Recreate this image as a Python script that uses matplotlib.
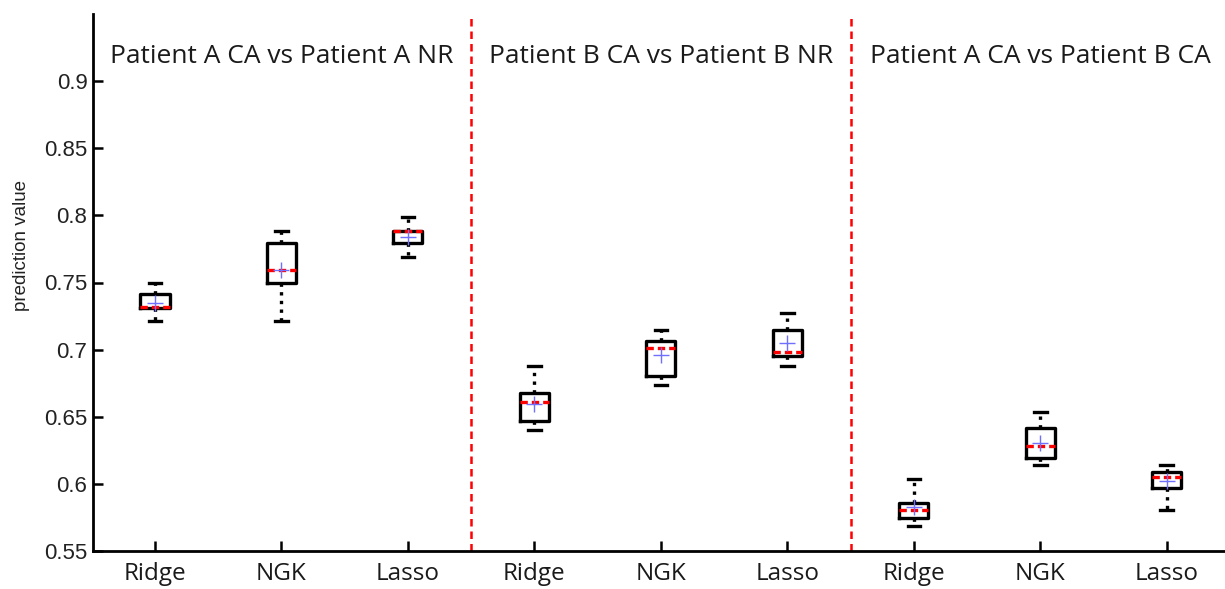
import matplotlib.pyplot as plt

# Box statistics per method and comparison (read as: lower whisker, q1, median, q3, upper whisker, mean)
methods = ["Ridge", "NGK", "Lasso"]
groups = ["Patient A CA vs Patient A NR",
          "Patient B CA vs Patient B NR",
          "Patient A CA vs Patient B CA"]

whis_lo = [0.7215, 0.7215, 0.7692, 0.6400, 0.6736, 0.6878, 0.5688, 0.6140, 0.5805]
q1      = [0.7312, 0.7498, 0.7791, 0.6470, 0.6800, 0.6952, 0.5743, 0.6190, 0.5970]
medians = [0.7317, 0.7592, 0.7880, 0.6612, 0.7010, 0.6980, 0.5805, 0.6282, 0.6053]
q3      = [0.7412, 0.7796, 0.7885, 0.6674, 0.7066, 0.7146, 0.5860, 0.6418, 0.6086]
whis_hi = [0.7496, 0.7885, 0.7985, 0.6880, 0.7146, 0.7275, 0.6034, 0.6537, 0.6140]
means   = [0.7350, 0.7592, 0.7840, 0.6592, 0.6960, 0.7047, 0.5826, 0.6306, 0.6024]

stats = []
for i in range(len(medians)):
    stats.append({
        "whislo": whis_lo[i], "q1": q1[i], "med": medians[i],
        "q3": q3[i], "whishi": whis_hi[i], "mean": means[i], "fliers": [],
    })

positions = list(range(1, len(stats) + 1))

fig = plt.figure(figsize=(12.25, 5.89), dpi=100)
ax = fig.add_axes([93 / 1225, 1 - 551 / 589, 1 - 93 / 1225, (551 - 14) / 589])

ax.bxp(stats, positions=positions, widths=0.23, showmeans=True,
       boxprops=dict(color="black", linewidth=2.4),
       whiskerprops=dict(color="black", linewidth=2.4, linestyle=(0, (1, 1.6))),
       capprops=dict(color="black", linewidth=2.4),
       capwidths=0.1,
       medianprops=dict(color="#ff0000", linewidth=2.4, linestyle=(0, (2.2, 1.2))),
       meanprops=dict(marker="+", markeredgecolor="#7070ff", markersize=11,
                      markeredgewidth=1.0))

# Dashed separators between the three comparisons
for xs in [3.5, 6.5]:
    ax.axvline(xs, color="#ff0000", linestyle=(0, (3, 2)), linewidth=1.8)

for k, g in enumerate(groups):
    ax.text(2 + 3 * k, 0.918, g, ha="center", va="center",
            fontsize=19, family="Open Sans", color="#1a1a1a")

ax.set_xlim(0.51, 9.46)
ax.set_ylim(0.55, 0.95)
ax.set_xticks(positions)
ax.set_xticklabels(methods * 3, fontsize=17.5, family="Open Sans", color="#1a1a1a")
ax.set_yticks([0.55, 0.6, 0.65, 0.7, 0.75, 0.8, 0.85, 0.9])
ax.set_yticklabels(["0.55", "0.6", "0.65", "0.7", "0.75", "0.8", "0.85", "0.9"],
                   fontsize=16, family="Liberation Sans", color="#222222")
ax.set_ylabel("prediction value", fontsize=13.5, family="Liberation Sans",
              color="#222222", labelpad=6)
ax.yaxis.set_label_coords(-0.056, 0.568)

ax.tick_params(direction="in", length=7, width=1.8)
ax.tick_params(axis="x", pad=8)
ax.tick_params(axis="y", pad=4)
for side in ["top", "right"]:
    ax.spines[side].set_visible(False)
for side in ["left", "bottom"]:
    ax.spines[side].set_linewidth(2)

fig.savefig("out.png", dpi=100)
